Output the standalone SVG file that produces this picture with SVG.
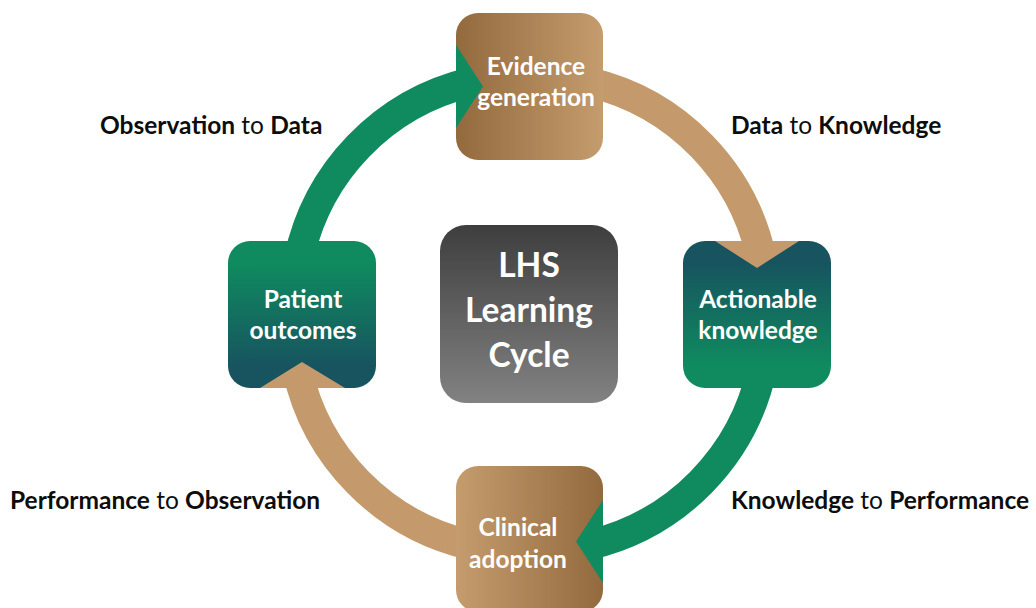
<svg xmlns="http://www.w3.org/2000/svg" width="1036" height="608" viewBox="0 0 1036 608">
<defs>
<radialGradient id="topShade" cx="0.5" cy="0" r="0.5">
<stop offset="0" stop-color="#e9e9e9"/>
<stop offset="1" stop-color="#ffffff" stop-opacity="0"/>
</radialGradient>
<linearGradient id="brownLR" x1="0" y1="0" x2="1" y2="0">
<stop offset="0" stop-color="#936a3d"/>
<stop offset="1" stop-color="#c59c6e"/>
</linearGradient>
<linearGradient id="brownRL" x1="0" y1="0" x2="1" y2="0">
<stop offset="0" stop-color="#c59c6e"/>
<stop offset="1" stop-color="#936a3d"/>
</linearGradient>
<linearGradient id="tealDown" x1="0" y1="0" x2="0" y2="1">
<stop offset="0.15" stop-color="#17545f"/>
<stop offset="0.85" stop-color="#0f8b5f"/>
</linearGradient>
<linearGradient id="tealUp" x1="0" y1="0" x2="0" y2="1">
<stop offset="0.15" stop-color="#0f8b5f"/>
<stop offset="0.85" stop-color="#17545f"/>
</linearGradient>
<linearGradient id="grey" x1="0" y1="0" x2="0" y2="1">
<stop offset="0" stop-color="#3e3e3e"/>
<stop offset="1" stop-color="#828282"/>
</linearGradient>
</defs>
<style>
.shaft{fill:none;stroke-width:30;stroke-linecap:butt}
.green{stroke:#0f8b5f}
.tan{stroke:#c49a6c}
.gHead{fill:#0f8b5f}
.tHead{fill:#c49a6c}
.ntext{font-family:Lato,"Open Sans","Liberation Sans",sans-serif;font-weight:700;fill:#ffffff;font-size:24.5px;text-anchor:middle}
.ctext{font-family:Lato,"Open Sans","Liberation Sans",sans-serif;font-weight:700;fill:#ffffff;font-size:33.5px;text-anchor:middle}
.label{font-family:Lato,"Open Sans","Liberation Sans",sans-serif;font-size:24.5px;fill:#0d0d0d}
.b{font-weight:700}
</style>
<rect x="0" y="0" width="1036" height="608" fill="#ffffff"/>
<ellipse cx="530" cy="-10" rx="420" ry="70" fill="url(#topShade)"/>

<g id="connectors">
<path class="shaft green" d="M298.6,260 A230,230 0 0 1 470,82.4"/>
<path class="shaft tan" d="M590,82.3 A230,230 0 0 1 761.9,260"/>
<path class="shaft green" d="M761.7,370 A230,230 0 0 1 590,544.8"/>
<path class="shaft tan" d="M470,545 A230,230 0 0 1 297.3,370"/>
</g>

<g id="node-evidence">
<rect x="456" y="13" width="147" height="147" rx="22" fill="url(#brownLR)"/>
</g>
<g id="node-actionable">
<rect x="683" y="241" width="148" height="147" rx="22" fill="url(#tealDown)"/>
</g>
<g id="node-clinical">
<rect x="456" y="466" width="147" height="146" rx="22" fill="url(#brownRL)"/>
</g>
<g id="node-patient">
<rect x="228" y="241" width="148" height="147" rx="22" fill="url(#tealUp)"/>
</g>
<g id="node-center">
<rect x="440" y="225" width="178" height="178" rx="26" fill="url(#grey)"/>
<text class="ctext" x="529" y="277">LHS</text>
<text class="ctext" x="529" y="322">Learning</text>
<text class="ctext" x="529" y="367">Cycle</text>
</g>

<g id="arrowheads">
<polygon class="gHead" points="456,45 483,86.5 456,128"/>
<polygon class="tHead" points="715,241 757,268 799,241"/>
<polygon class="gHead" points="603,500 576,541.5 603,583"/>
<polygon class="tHead" points="260,388 302,362 345,388"/>
</g>

<g id="node-labels">
<text class="ntext" x="536" y="75">Evidence</text>
<text class="ntext" x="536" y="106">generation</text>
<text class="ntext" x="758" y="308">Actionable</text>
<text class="ntext" x="758" y="339">knowledge</text>
<text class="ntext" x="518" y="536">Clinical</text>
<text class="ntext" x="518" y="568">adoption</text>
<text class="ntext" x="303" y="308">Patient</text>
<text class="ntext" x="303" y="339">outcomes</text>
</g>

<g id="edge-labels">
<text class="label" x="100" y="134"><tspan class="b">Observation</tspan> to <tspan class="b">Data</tspan></text>
<text class="label" x="731" y="134"><tspan class="b">Data</tspan> to <tspan class="b">Knowledge</tspan></text>
<text class="label" x="10" y="509"><tspan class="b">Performance</tspan> to <tspan class="b">Observation</tspan></text>
<text class="label" x="731" y="509"><tspan class="b">Knowledge</tspan> to <tspan class="b">Performance</tspan></text>
</g>
</svg>
